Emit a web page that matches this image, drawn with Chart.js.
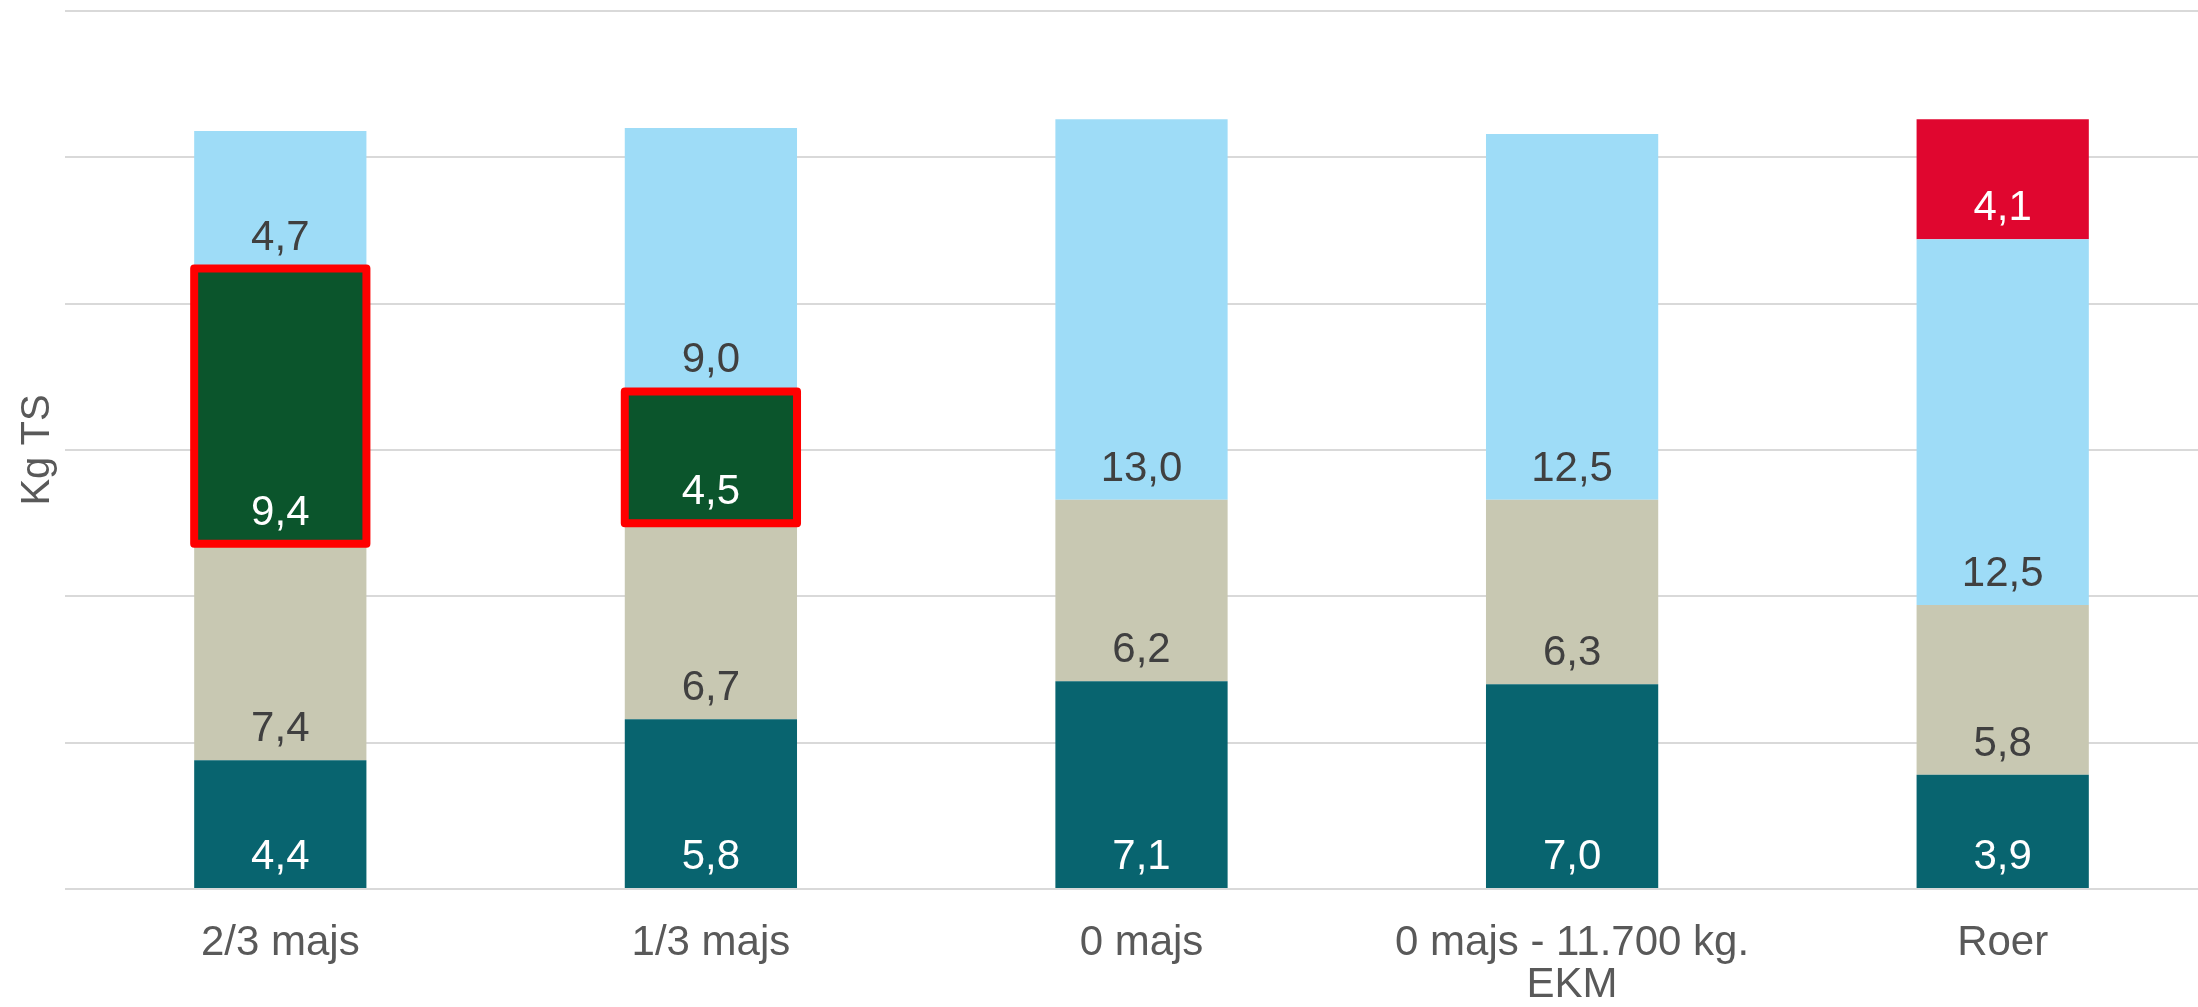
<!DOCTYPE html>
<html>
<head>
<meta charset="utf-8">
<script src="https://cdn.jsdelivr.net/npm/chart.js@4.4.1/dist/chart.umd.min.js"></script>
<style>
html, body { margin: 0; padding: 0; background: #fff; overflow: hidden; }
#wrap { width: 2218px; height: 1007px; }
</style>
</head>
<body>
<div id="wrap"><canvas id="chart" width="2218" height="1007"></canvas></div>
<script>
// data (kg TS per stacked segment, bottom to top)
const categories = ['2/3 majs', '1/3 majs', '0 majs', ['0 majs - 11.700 kg.', 'EKM'], 'Roer'];
const serie1 = [4.4, 5.8, 7.1, 7.0, 3.9];
const serie2 = [7.4, 6.7, 6.2, 6.3, 5.8];
const serie3 = [9.4, 4.5, null, null, null];
const serie4 = [4.7, 9.0, 13.0, 12.5, 12.5];
const serie5 = [null, null, null, null, 4.1];
const yTicks = [0, 5, 10, 15, 20, 25, 30];

const barColors = ['#08646F', '#C8C8B2', '#0B552C', '#9EDCF7', '#E0062F'];
const labelColors = ['#FFFFFF', '#404040', '#FFFFFF', '#404040', '#FFFFFF'];
const highlighted = 2; // dark green segments get a red frame

const FONT = '"Liberation Sans", Arial, sans-serif';

// red frame around the highlighted segments
const segmentFrame = {
    id: 'segmentFrame',
    afterDatasetsDraw(chart) {
        const ctx = chart.ctx;
        const meta = chart.getDatasetMeta(highlighted);
        ctx.save();
        ctx.strokeStyle = '#FF0000';
        ctx.lineWidth = 8;
        ctx.lineJoin = 'round';
        meta.data.forEach((bar, j) => {
            if (chart.data.datasets[highlighted].data[j] == null) return;
            ctx.strokeRect(bar.x - bar.width / 2, bar.y, bar.width, bar.base - bar.y);
        });
        ctx.restore();
    }
};

// value labels near the base of each segment
const segmentLabels = {
    id: 'segmentLabels',
    afterDatasetsDraw(chart) {
        const ctx = chart.ctx;
        ctx.save();
        ctx.font = '42px ' + FONT;
        ctx.textAlign = 'center';
        ctx.textBaseline = 'alphabetic';
        chart.data.datasets.forEach((ds, i) => {
            const meta = chart.getDatasetMeta(i);
            meta.data.forEach((bar, j) => {
                const v = ds.data[j];
                if (v == null) return;
                ctx.fillStyle = labelColors[i];
                ctx.fillText(v.toFixed(1).replace('.', ','), bar.x, bar.base - 19);
            });
        });
        ctx.restore();
    }
};

const series = [serie1, serie2, serie3, serie4, serie5];

new Chart(document.getElementById('chart'), {
    type: 'bar',
    data: {
        labels: categories,
        datasets: series.map((s, i) => ({
            label: 'Serie ' + (i + 1),
            data: s,
            backgroundColor: barColors[i],
            borderWidth: 0,
            barPercentage: 0.4,
            categoryPercentage: 1.0
        }))
    },
    options: {
        responsive: false,
        animation: false,
        devicePixelRatio: 1,
        layout: { padding: { top: 11, right: 0, bottom: 0, left: 0 } },
        plugins: {
            legend: { display: false },
            tooltip: { enabled: false }
        },
        scales: {
            x: {
                stacked: true,
                grid: { display: false, drawTicks: false },
                border: { display: false },
                afterFit(scale) { scale.height = 118; },
                ticks: {
                    color: '#595959',
                    font: { family: FONT, size: 42, lineHeight: 1.0 },
                    padding: 33,
                    maxRotation: 0,
                    autoSkip: false
                }
            },
            y: {
                stacked: true,
                min: 0,
                max: 30,
                afterBuildTicks(scale) {
                    scale.ticks = yTicks.map(v => ({ value: v }));
                },
                grid: { color: '#D9D9D9', lineWidth: 2, drawTicks: false },
                border: { display: false },
                ticks: { display: false },
                title: {
                    display: true,
                    text: 'Kg TS',
                    color: '#595959',
                    font: { family: FONT, size: 40 },
                    padding: { top: 14, bottom: 3 }
                }
            }
        }
    },
    plugins: [segmentFrame, segmentLabels]
});
</script>
</body>
</html>
